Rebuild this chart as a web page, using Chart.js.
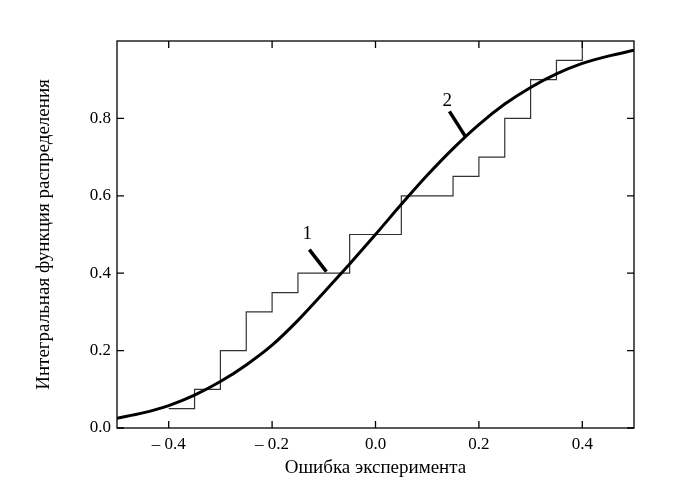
<!DOCTYPE html>
<html>
<head>
<meta charset="utf-8">
<script src="https://cdn.jsdelivr.net/npm/chart.js@4"></script>
<style>
  html, body { margin: 0; padding: 0; background: #fff; }
  #wrap { width: 684px; height: 502px; }
</style>
</head>
<body>
<div id="wrap"><canvas id="cdf"></canvas></div>
<script>
// empirical distribution (step line), value after each jump
const stepX = [-0.4, -0.35, -0.3, -0.25, -0.2, -0.15, -0.05, 0.05, 0.15, 0.2, 0.25, 0.3, 0.35, 0.4];
const stepY = [0.05, 0.1, 0.2, 0.3, 0.35, 0.4, 0.5, 0.6, 0.65, 0.7, 0.8, 0.9, 0.95, 1.0];

// smooth curve
const curveX = [-0.5, -0.45, -0.4, -0.35, -0.3, -0.25, -0.2, -0.15, -0.1, -0.05, 0, 0.05, 0.1, 0.15, 0.2, 0.25, 0.3, 0.35, 0.4, 0.45, 0.5];
const curveY = [0.025, 0.039, 0.058, 0.085, 0.12, 0.163, 0.214, 0.278, 0.35, 0.424, 0.5, 0.578, 0.653, 0.722, 0.784, 0.837, 0.88, 0.915, 0.942, 0.961, 0.976];

const xTicks = [-0.4, -0.2, 0, 0.2, 0.4];
const yTicks = [0, 0.2, 0.4, 0.6, 0.8];

const xTitle = 'Ошибка эксперимента';
const yTitle = 'Интегральная функция распределения';

// numbered callouts, in data units
const callouts = [
  { text: '1', at: [-0.132, 0.502], from: [-0.128, 0.461], to: [-0.095, 0.404] },
  { text: '2', at: [0.139, 0.845], from: [0.143, 0.818], to: [0.174, 0.753] }
];

const serif = '"Liberation Serif", "Times New Roman", serif';

function fmtX(v) {
  if (Math.abs(v) < 1e-9) return '0.0';
  return v < 0 ? '\u2013 ' + Math.abs(v).toFixed(1) : v.toFixed(1);
}

const framePlugin = {
  id: 'frame',
  afterDatasetsDraw(chart) {
    const ctx = chart.ctx;
    const a = chart.chartArea;
    const xs = chart.scales.x, ys = chart.scales.y;
    const len = 7;
    ctx.save();
    ctx.strokeStyle = '#000';
    ctx.lineWidth = 1.3;
    ctx.strokeRect(a.left, a.top, a.right - a.left, a.bottom - a.top);
    ctx.beginPath();
    xTicks.forEach(v => {
      const px = xs.getPixelForValue(v);
      ctx.moveTo(px, a.bottom); ctx.lineTo(px, a.bottom - len);
      ctx.moveTo(px, a.top); ctx.lineTo(px, a.top + len);
    });
    yTicks.forEach(v => {
      const py = ys.getPixelForValue(v);
      ctx.moveTo(a.left, py); ctx.lineTo(a.left + len, py);
      ctx.moveTo(a.right, py); ctx.lineTo(a.right - len, py);
    });
    ctx.stroke();

    // callouts
    ctx.lineWidth = 3.5;
    ctx.lineCap = 'butt';
    ctx.fillStyle = '#000';
    ctx.font = '19px ' + serif;
    ctx.textAlign = 'center';
    ctx.textBaseline = 'middle';
    callouts.forEach(c => {
      ctx.beginPath();
      ctx.moveTo(xs.getPixelForValue(c.from[0]), ys.getPixelForValue(c.from[1]));
      ctx.lineTo(xs.getPixelForValue(c.to[0]), ys.getPixelForValue(c.to[1]));
      ctx.stroke();
      ctx.fillText(c.text, xs.getPixelForValue(c.at[0]), ys.getPixelForValue(c.at[1]));
    });
    ctx.restore();
  }
};

new Chart('cdf', {
  type: 'line',
  data: {
    datasets: [
      {
        data: curveX.map((x, i) => ({ x: x, y: curveY[i] })),
        borderColor: '#000',
        borderWidth: 3,
        pointRadius: 0,
        cubicInterpolationMode: 'monotone',
        order: 0
      },
      {
        data: stepX.map((x, i) => ({ x: x, y: stepY[i] })),
        borderColor: '#333',
        borderWidth: 1.2,
        pointRadius: 0,
        stepped: 'before',
        order: 1
      }
    ]
  },
  options: {
    responsive: true,
    maintainAspectRatio: false,
    animation: false,
    events: [],
    layout: { padding: { top: 41, right: 50, left: 0, bottom: 0 } },
    plugins: { legend: { display: false }, tooltip: { enabled: false } },
    scales: {
      x: {
        type: 'linear',
        min: -0.5,
        max: 0.5,
        afterBuildTicks: s => { s.ticks = xTicks.map(v => ({ value: v })); },
        afterFit: s => { s.height = 74; },
        grid: { display: false, drawTicks: false },
        border: { display: false },
        ticks: {
          color: '#000',
          padding: 6,
          maxRotation: 0,
          font: { family: serif, size: 17 },
          callback: v => fmtX(v)
        },
        title: {
          display: true,
          text: xTitle,
          color: '#000',
          font: { family: serif, size: 19 },
          padding: { top: 0, bottom: 23 }
        }
      },
      y: {
        type: 'linear',
        min: 0,
        max: 1,
        afterBuildTicks: s => { s.ticks = yTicks.map(v => ({ value: v })); },
        afterFit: s => { s.width = 117; },
        grid: { display: false, drawTicks: false },
        border: { display: false },
        ticks: {
          color: '#000',
          padding: 6,
          font: { family: serif, size: 17 },
          callback: v => v.toFixed(1)
        },
        title: {
          display: true,
          text: yTitle,
          color: '#000',
          font: { family: serif, size: 19 },
          padding: { top: 33, bottom: 0 }
        }
      }
    }
  },
  plugins: [framePlugin]
});
</script>
</body>
</html>
